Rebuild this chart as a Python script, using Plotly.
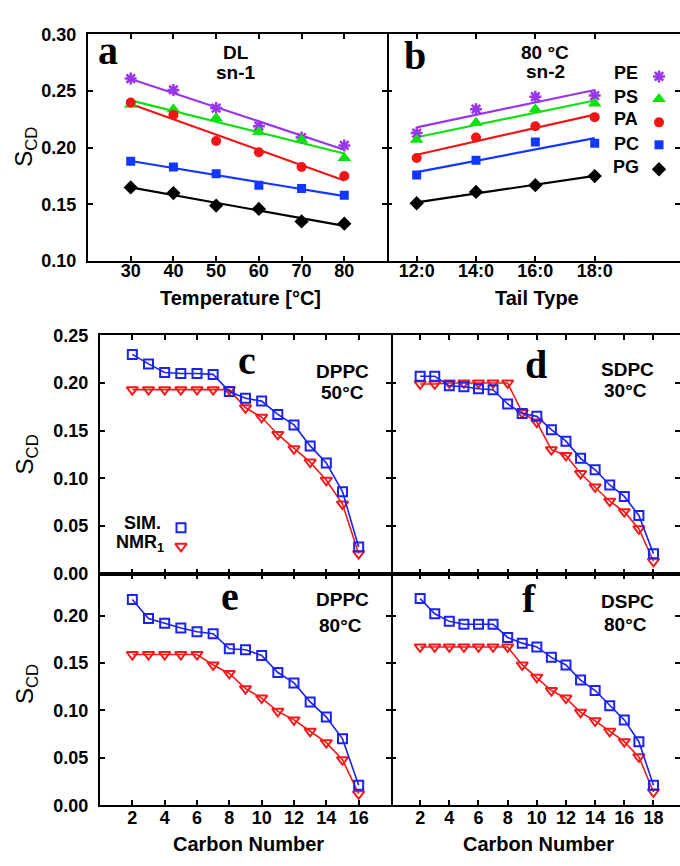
import numpy as np
import plotly.graph_objects as go

W, H = 680, 866
SANS = "Arial, 'Liberation Sans', Helvetica, sans-serif"
SERIF = "'Times New Roman', 'Liberation Serif', serif"

# ---- panel a: S_CD vs temperature (DL, sn-1) ----
temperature = [30, 40, 50, 60, 70, 80]
a_PE = [0.261, 0.251, 0.235, 0.219, 0.209, 0.202]
a_PS = [0.238, 0.234, 0.226, 0.214, 0.207, 0.191]
a_PA = [0.240, 0.229, 0.206, 0.196, 0.183, 0.175]
a_PC = [0.188, 0.183, 0.177, 0.167, 0.164, 0.158]
a_PG = [0.165, 0.160, 0.149, 0.146, 0.135, 0.133]

# ---- panel b: S_CD vs tail type at 80 °C (sn-2) ----
tail_carbons = [12, 14, 16, 18]
tail_labels = ["12:0", "14:0", "16:0", "18:0"]
b_PE = [0.213, 0.234, 0.245, 0.246]
b_PS = [0.207, 0.222, 0.234, 0.239]
b_PA = [0.191, 0.209, 0.219, 0.227]
b_PC = [0.176, 0.189, 0.205, 0.204]
b_PG = [0.151, 0.161, 0.167, 0.175]

headgroups = ["PE", "PS", "PA", "PC", "PG"]

# ---- panels c-f: S_CD profiles along the chain ----
carbons_16 = [2, 3, 4, 5, 6, 7, 8, 9, 10, 11, 12, 13, 14, 15, 16]
carbons_18 = [2, 3, 4, 5, 6, 7, 8, 9, 10, 11, 12, 13, 14, 15, 16, 17, 18]

c_sim = [0.230, 0.220, 0.211, 0.210, 0.210, 0.209, 0.191, 0.184, 0.181,
         0.167, 0.156, 0.134, 0.116, 0.086, 0.028]
c_nmr = [0.193, 0.193, 0.193, 0.193, 0.193, 0.193, 0.193, 0.174, 0.164,
         0.146, 0.131, 0.117, 0.098, 0.073, 0.021]

d_sim = [0.207, 0.207, 0.197, 0.196, 0.194, 0.193, 0.178, 0.168, 0.165,
         0.151, 0.139, 0.121, 0.109, 0.093, 0.081, 0.061, 0.021]
d_nmr = [0.199, 0.199, 0.200, 0.200, 0.200, 0.200, 0.200, 0.169, 0.159,
         0.130, 0.124, 0.105, 0.091, 0.076, 0.065, 0.047, 0.013]

e_sim = [0.217, 0.197, 0.192, 0.187, 0.183, 0.181, 0.165, 0.164, 0.158,
         0.140, 0.129, 0.109, 0.093, 0.070, 0.021]
e_nmr = [0.159, 0.159, 0.159, 0.159, 0.159, 0.148, 0.139, 0.123, 0.113,
         0.099, 0.090, 0.078, 0.066, 0.048, 0.012]

f_sim = [0.218, 0.202, 0.194, 0.191, 0.191, 0.191, 0.177, 0.171, 0.167,
         0.156, 0.148, 0.132, 0.121, 0.105, 0.090, 0.067, 0.021]
f_nmr = [0.167, 0.167, 0.167, 0.167, 0.167, 0.167, 0.167, 0.148, 0.135,
         0.121, 0.113, 0.098, 0.089, 0.078, 0.067, 0.051, 0.014]

# ---- styles ----
HG_STYLE = {
    "PE": dict(color="#9a35ee", symbol="asterisk-open", size=10),
    "PS": dict(color="#10e010", symbol="triangle-up", size=12),
    "PA": dict(color="#f01616", symbol="circle", size=10),
    "PC": dict(color="#1238ff", symbol="square", size=9),
    "PG": dict(color="#000000", symbol="diamond", size=11),
}
SIM_COLOR = "#1c22f0"
NMR_COLOR = "#f21a1a"
SIM_MARKER = dict(symbol="square-open", size=9, color=SIM_COLOR,
                  line=dict(color=SIM_COLOR, width=2))
NMR_MARKER = dict(symbol="triangle-down-open", size=10, color=NMR_COLOR,
                  line=dict(color=NMR_COLOR, width=2))


def fx(px):
    return px / W


def fy(py):
    return 1 - py / H


def hg_marker(name):
    st = HG_STYLE[name]
    mk = dict(color=st["color"], symbol=st["symbol"], size=st["size"])
    mk["line"] = (dict(color=st["color"], width=2.5)
                  if st["symbol"].endswith("open") else dict(width=0))
    return mk


fig = go.Figure()


def add_fit_panel(xs, series, xa, ya):
    # least-squares straight line through each headgroup series
    for name, ys in zip(headgroups, series):
        slope, icpt = np.polyfit(xs, ys, 1)
        xf = np.array([xs[0], xs[-1]])
        fig.add_trace(go.Scatter(
            x=xf, y=slope * xf + icpt, mode="lines", xaxis=xa, yaxis=ya,
            line=dict(color=HG_STYLE[name]["color"], width=2.2),
            showlegend=False, hoverinfo="skip"))
    for name, ys in zip(headgroups, series):
        fig.add_trace(go.Scatter(
            x=xs, y=ys, mode="markers", xaxis=xa, yaxis=ya,
            marker=hg_marker(name), name=name, showlegend=False))


add_fit_panel(temperature, [a_PE, a_PS, a_PA, a_PC, a_PG], "x", "y")
add_fit_panel(tail_carbons, [b_PE, b_PS, b_PA, b_PC, b_PG], "x2", "y2")


def add_profile(xs, sim, nmr, xa, ya):
    fig.add_trace(go.Scatter(
        x=xs, y=nmr, mode="lines+markers", xaxis=xa, yaxis=ya, name="NMR1",
        line=dict(color=NMR_COLOR, width=1.6), marker=NMR_MARKER,
        showlegend=False))
    fig.add_trace(go.Scatter(
        x=xs, y=sim, mode="lines+markers", xaxis=xa, yaxis=ya, name="SIM.",
        line=dict(color=SIM_COLOR, width=1.6), marker=SIM_MARKER,
        showlegend=False))


add_profile(carbons_16, c_sim, c_nmr, "x3", "y3")
add_profile(carbons_18, d_sim, d_nmr, "x4", "y4")
add_profile(carbons_16, e_sim, e_nmr, "x5", "y5")
add_profile(carbons_18, f_sim, f_nmr, "x6", "y6")

# legend symbols, drawn on a pixel-space overlay axis
legend_marks = [
    (659, 68, "PE"), (659, 91, "PS"), (659, 115, "PA"),
    (659, 138, "PC"), (659, 163, "PG"),
]
for lx, ly, name in legend_marks:
    fig.add_trace(go.Scatter(x=[lx], y=[ly], mode="markers", xaxis="x7",
                             yaxis="y7", marker=hg_marker(name),
                             showlegend=False, hoverinfo="skip"))
fig.add_trace(go.Scatter(x=[181], y=[530], mode="markers", xaxis="x7",
                         yaxis="y7", showlegend=False, hoverinfo="skip",
                         marker=SIM_MARKER))
fig.add_trace(go.Scatter(x=[181], y=[549], mode="markers", xaxis="x7",
                         yaxis="y7", showlegend=False, hoverinfo="skip",
                         marker=NMR_MARKER))

tickfont = dict(family=SANS, size=18, color="black", weight="bold")


def axis(domain, rng, **kw):
    d = dict(domain=domain, range=rng, showline=True, linecolor="black",
             linewidth=2, ticks="inside", ticklen=5, tickwidth=1.5,
             tickcolor="black", mirror="allticks", showgrid=False,
             zeroline=False, tickfont=tickfont, fixedrange=True)
    d.update(kw)
    return d


# pixel boxes of the six panels
TOP = (25, 257)
MID = (333, 577)
BOT = (577, 814)
LEFT_A, SPLIT_AB = 88, 387
LEFT_C, SPLIT_CD = 100, 391

ytop = [fy(TOP[1]), fy(TOP[0])]
ymid = [fy(MID[1]), fy(MID[0])]
ybot = [fy(BOT[1]), fy(BOT[0])]

layout = dict(
    width=W, height=H, margin=dict(l=0, r=0, t=0, b=0),
    paper_bgcolor="white", plot_bgcolor="rgba(0,0,0,0)",
    xaxis=axis([fx(LEFT_A), fx(SPLIT_AB)], [20, 90], anchor="y",
               tickvals=temperature, ticklabelstandoff=-8),
    yaxis=axis(ytop, [0.10, 0.30], anchor="x", dtick=0.05,
               tickformat=".2f", ticklabelstandoff=6),
    xaxis2=axis([fx(SPLIT_AB), 1], [11, 20.875], anchor="y2",
                tickvals=tail_carbons, ticktext=tail_labels,
                ticklabelstandoff=-8),
    yaxis2=axis(ytop, [0.10, 0.30], anchor="x2", dtick=0.05,
                showticklabels=False, showline=False, mirror="ticks"),
    xaxis3=axis([fx(LEFT_C), fx(SPLIT_CD)], [0, 18], anchor="y3",
                tickvals=list(range(2, 17, 2)), showticklabels=False),
    yaxis3=axis(ymid, [0, 0.25], anchor="x3", dtick=0.05,
                tickformat=".2f", ticklabelstandoff=6),
    xaxis4=axis([fx(SPLIT_CD), 1], [0, 19.82], anchor="y4",
                tickvals=list(range(2, 19, 2)), showticklabels=False),
    yaxis4=axis(ymid, [0, 0.25], anchor="x4", dtick=0.05,
                showticklabels=False, showline=False, mirror="ticks"),
    xaxis5=axis([fx(LEFT_C), fx(SPLIT_CD)], [0, 18], anchor="y5",
                tickvals=list(range(2, 17, 2)), ticklabelstandoff=-5),
    yaxis5=axis(ybot, [0, 0.2443], anchor="x5", dtick=0.05,
                tickformat=".2f", ticklabelstandoff=6),
    xaxis6=axis([fx(SPLIT_CD), 1], [0, 19.82], anchor="y6",
                tickvals=list(range(2, 19, 2)), ticklabelstandoff=-5),
    yaxis6=axis(ybot, [0, 0.2443], anchor="x6", dtick=0.05,
                showticklabels=False, showline=False, mirror="ticks"),
    xaxis7=dict(domain=[0, 1], range=[0, W], visible=False, anchor="y7",
                fixedrange=True),
    yaxis7=dict(domain=[0, 1], range=[H, 0], visible=False, anchor="x7",
                fixedrange=True),
)
fig.update_layout(**layout)

annotations = []


def ann(text, x, y, size=19, family=SANS, weight="bold", angle=0,
        xanchor="center"):
    annotations.append(dict(
        text=text, x=fx(x), y=fy(y), xref="paper", yref="paper",
        xanchor=xanchor, yanchor="middle", showarrow=False, textangle=angle,
        font=dict(family=family, size=size, color="black", weight=weight)))


# panel letters
for letter, x, y in [("a", 108, 41), ("b", 415, 47), ("c", 247, 359),
                     ("d", 536, 363), ("e", 230, 600), ("f", 529, 602)]:
    ann(letter, x, y, size=40, family=SERIF)

# panel captions
ann("DL", 236, 44)
ann("sn-1", 236, 64)
ann("80 °C", 545, 43)
ann("sn-2", 545, 63)
ann("DPPC", 342, 370)
ann("50°C", 342, 392)
ann("SDPC", 627, 368)
ann("30°C", 625, 390)
ann("DPPC", 342, 603)
ann("80°C", 340, 630)
ann("DSPC", 627, 605)
ann("80°C", 625, 629)

# headgroup legend labels
for name, ty in zip(headgroups, [64, 89, 112, 137, 161]):
    ann(name, 626, ty, size=18)

# SIM / NMR legend labels
ann("SIM.", 163, 525, size=18, xanchor="right")
ann("NMR<sub>1</sub>", 166, 546, size=18, xanchor="right")

# axis titles
ann("Temperature [°C]", 240, 295, size=20)
ann("Tail Type", 537, 295, size=20)
ann("Carbon Number", 248, 854, size=20)
ann("Carbon Number", 538, 854, size=20)
for yy in [140, 455, 690]:
    ann("S<sub>CD</sub>", 26, yy, size=24, weight="normal", angle=-90)

fig.update_layout(annotations=annotations)
fig.write_html("out.html")
